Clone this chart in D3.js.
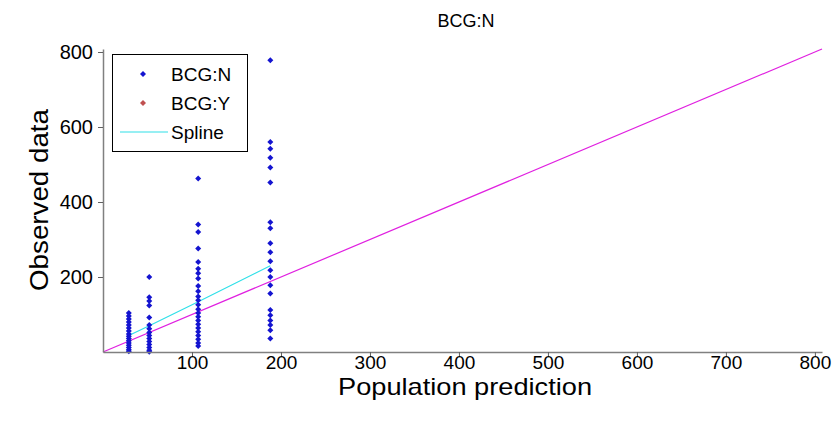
<!DOCTYPE html>
<html><head><meta charset="utf-8">
<script src="https://cdn.jsdelivr.net/npm/d3@7"></script>
<style>body{margin:0;background:#fff}svg{display:block}text{font-family:"Liberation Sans",Arial,sans-serif}</style>
</head><body><svg id="c" width="836" height="422"></svg>
<script>
const title = "BCG:N";
const xLabel = "Population prediction";
const yLabel = "Observed data";
const xTicks = [100,200,300,400,500,600,700,800];
const yTicks = [200,400,600,800];
const axisMax = 808;
const groupX = [29, 52, 107, 188];
const groupY = [
  [104,96,88,80,72,64,56,48,42,36,30,24,18,12,6,2],
  [200,146,136,124,92,72,62,52,44,36,28,20,12,5,1],
  [463,340,320,276,240,222,210,196,176,162,148,138,126,114,104,94,84,74,64,54,44,34,24,16],
  [778,560,542,518,492,452,346,330,290,266,242,218,200,178,156,112,98,84,72,58,36]
];
const splineX = [29, 52, 107, 188];
const splineY = [44, 70, 134, 230];
const idLine = [0, axisMax];

const svg = d3.select("#c");
const x = d3.scaleLinear().domain([0, axisMax]).range([103, 822]);
const y = d3.scaleLinear().domain([0, axisMax]).range([352, 49]);

svg.append("line").attr("x1", x(idLine[0])).attr("y1", y(idLine[0]))
  .attr("x2", x(idLine[1])).attr("y2", y(idLine[1]))
  .attr("stroke", "#e020e0").attr("stroke-width", 1.2);

svg.append("path").datum(splineX.map((d,i)=>[d, splineY[i]]))
  .attr("d", d3.line().x(d=>x(d[0])).y(d=>y(d[1])))
  .attr("fill","none").attr("stroke","#30e0e8").attr("stroke-width",1.2);

const pts = [];
groupX.forEach((gx,i)=>groupY[i].forEach(v=>pts.push([gx,v])));
const marker = d3.symbol().type(d3.symbolSquare).size(18);
svg.append("g").selectAll("path").data(pts).join("path")
  .attr("transform", d=>`translate(${x(d[0])},${y(d[1])}) rotate(45)`)
  .attr("d", marker).attr("fill", "#1414d0");

const ax = svg.append("g").attr("transform","translate(0,352)")
  .call(d3.axisBottom(x).tickValues(xTicks).tickSize(5).tickSizeOuter(0).tickPadding(-1));
const ay = svg.append("g").attr("transform","translate(103,0)")
  .call(d3.axisLeft(y).tickValues(yTicks).tickSize(5).tickSizeOuter(0).tickPadding(5));
[ax, ay].forEach(g=>{
  g.attr("font-size",19).attr("font-family","'Liberation Sans',Arial,sans-serif");
  g.select(".domain").attr("stroke","#808080").attr("stroke-width",1.5);
  g.selectAll(".tick line").attr("stroke","#606060").attr("stroke-width",1);
  g.selectAll(".tick text").attr("font-size",19).attr("fill","#000");
});
ay.selectAll(".tick text").attr("font-size",20);

svg.append("text").attr("x",466).attr("y",27).attr("text-anchor","middle")
  .attr("font-size",18).text(title);
svg.append("text").attr("x",465).attr("y",395).attr("text-anchor","middle")
  .attr("font-size",24).attr("textLength",254).attr("lengthAdjust","spacingAndGlyphs").text(xLabel);
svg.append("text").attr("transform","translate(48,200) rotate(-90)").attr("text-anchor","middle")
  .attr("font-size",26).attr("textLength",182).attr("lengthAdjust","spacingAndGlyphs").text(yLabel);

const lg = svg.append("g");
lg.append("rect").attr("x",112.5).attr("y",54.5).attr("width",135).attr("height",97)
  .attr("fill","#fff").attr("stroke","#000").attr("stroke-width",1);
const legendItems = ["BCG:N","BCG:Y","Spline"];
const legendColors = ["#1414d0","#c05050","#30e0e8"];
legendItems.forEach((t,i)=>{
  const cy = 74 + i*29;
  if (i<2) lg.append("path").attr("transform",`translate(143,${cy}) rotate(45)`).attr("d",marker).attr("fill",legendColors[i]);
  else lg.append("line").attr("x1",120).attr("x2",168).attr("y1",cy).attr("y2",cy)
        .attr("stroke",legendColors[i]).attr("stroke-width",1.2);
  lg.append("text").attr("x",171).attr("y",cy+7).attr("font-size",19).text(t);
});
</script></body></html>
